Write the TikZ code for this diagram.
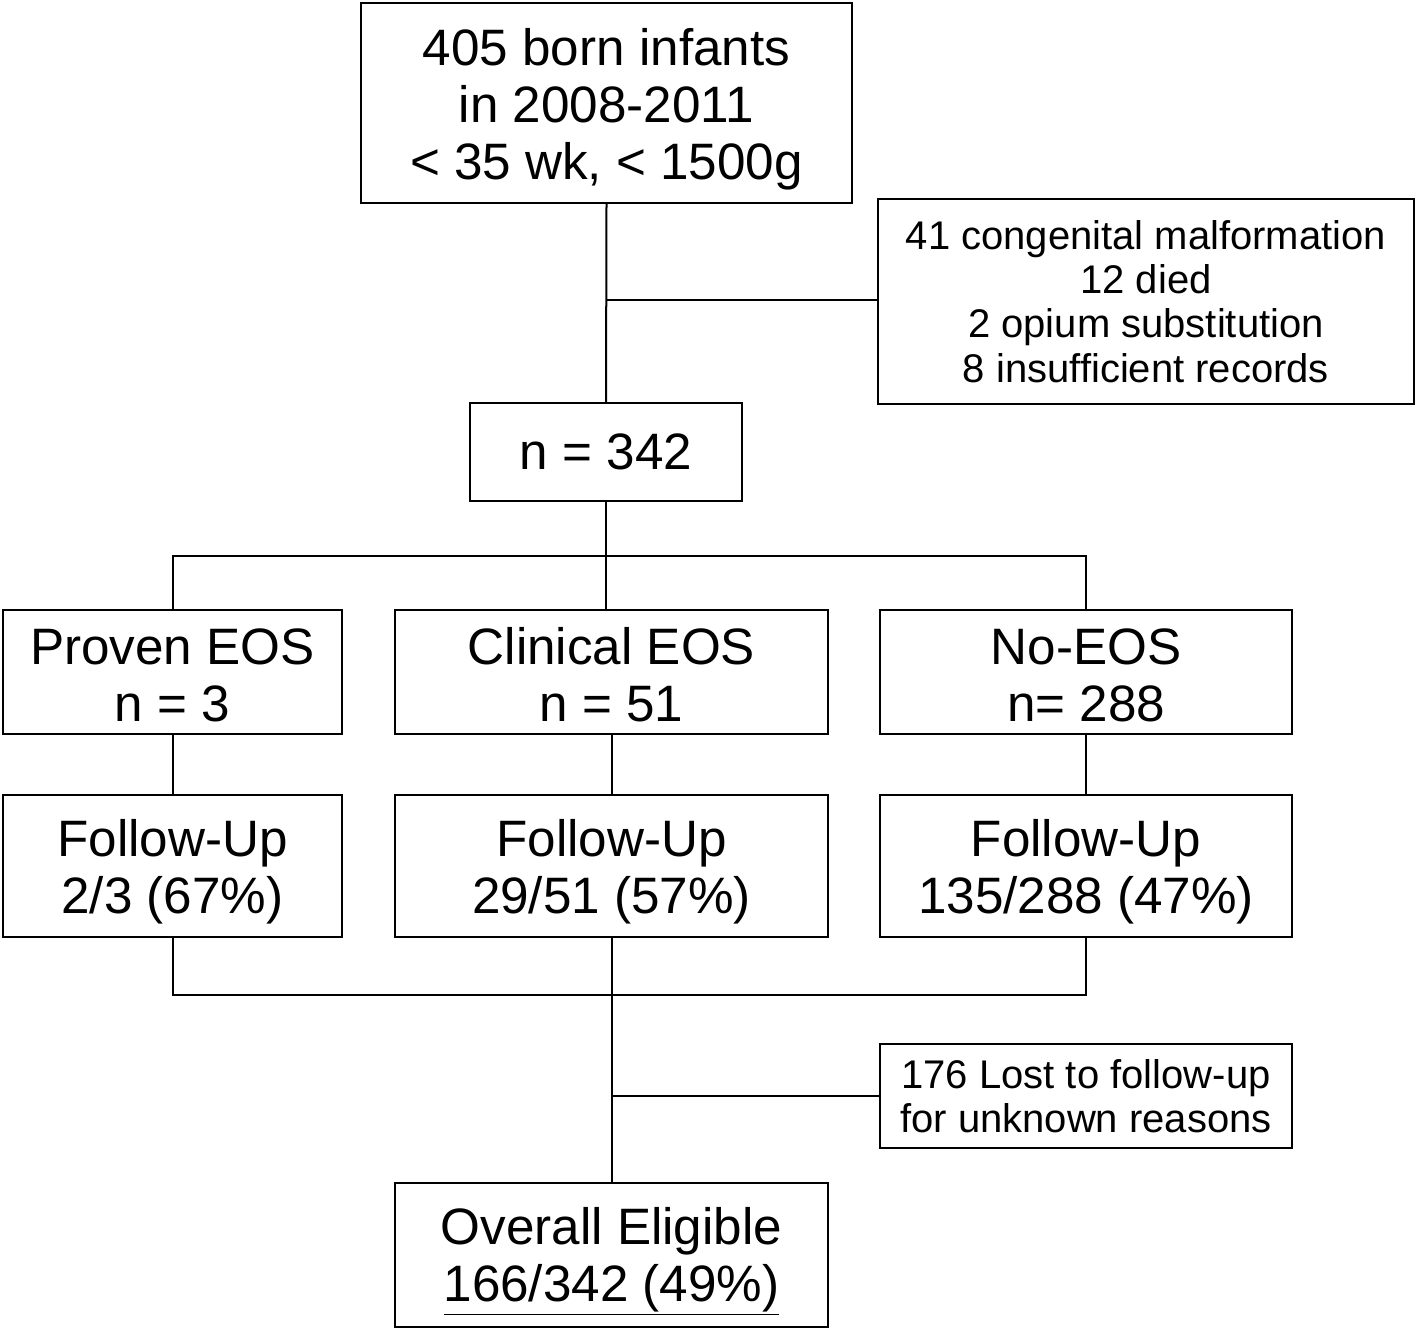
\documentclass[tikz,border=0pt]{standalone}
\usepackage{fontspec}
\setmainfont{Liberation Sans}
\newcommand{\liftline}[1]{\rule{0pt}{#1}}
\begin{document}
\begin{tikzpicture}[x=0.5pt,y=-0.5pt,
  box/.style={draw,line width=1pt,inner sep=0pt,align=center},
  big/.style={font=\fontsize{25.6}{28.4}\selectfont},
  small/.style={font=\fontsize{20}{22.2}\selectfont},
  conn/.style={line width=1pt}]
\useasboundingbox (0,0) rectangle (1418,1331);
\node[box,big,minimum width=245.5pt,minimum height=100pt] (top) at (606.5,103) {\liftline{25pt}405 born infants\\in 2008-2011\\< 35 wk, < 1500g};
\node[box,small,minimum width=268pt,minimum height=102.5pt] (excl) at (1146,301.5) {41 congenital malformation\\12 died\\2 opium substitution\\8 insufficient records};
\node[box,big,minimum width=136pt,minimum height=49pt] (n) at (606,452) {n = 342};
\node[box,big,minimum width=169.5pt,minimum height=62pt] (proven) at (172.5,672) {\liftline{21pt}Proven EOS\\n = 3};
\node[box,big,minimum width=216.5pt,minimum height=62pt] (clin) at (611.5,672) {\liftline{21pt}Clinical EOS\\n = 51};
\node[box,big,minimum width=206pt,minimum height=62pt] (noeos) at (1086,672) {\liftline{21pt}No-EOS\\n= 288};
\node[box,big,minimum width=169.5pt,minimum height=71pt] (fu1) at (172.5,866) {\liftline{24pt}Follow-Up\\2/3 (67\%)};
\node[box,big,minimum width=216.5pt,minimum height=71pt] (fu2) at (611.5,866) {\liftline{24pt}Follow-Up\\29/51 (57\%)};
\node[box,big,minimum width=206pt,minimum height=71pt] (fu3) at (1086,866) {\liftline{24pt}Follow-Up\\135/288 (47\%)};
\node[box,small,minimum width=206pt,minimum height=52pt] (lost) at (1086,1096) {176 Lost to follow-up\\for unknown reasons};
\node[box,big,minimum width=216.5pt,minimum height=72pt] (overall) at (611.5,1255) {\liftline{25pt}Overall Eligible\\\underline{166/342 (49\%)}};
\coordinate (b1) at (606.5,300);
\coordinate (split) at (606,556);
\coordinate (merge) at (611.5,995);
\draw[conn] (top.south) -- (n.north);
\draw[conn] (b1) -- (b1 -| excl.west);
\draw[conn] (n.south) -- (split);
\draw[conn] (proven.north) -- (proven.north |- split) -- (noeos.north |- split) -- (noeos.north);
\draw[conn] (split) -- (split |- clin.north);
\draw[conn] (proven.south) -- (fu1.north);
\draw[conn] (clin.south) -- (fu2.north);
\draw[conn] (noeos.south) -- (fu3.north);
\draw[conn] (fu1.south) -- (fu1.south |- merge) -- (fu3.south |- merge) -- (fu3.south);
\draw[conn] (fu2.south) -- (overall.north);
\draw[conn] (fu2.south |- lost.west) -- (lost.west);
\end{tikzpicture}
\end{document}
